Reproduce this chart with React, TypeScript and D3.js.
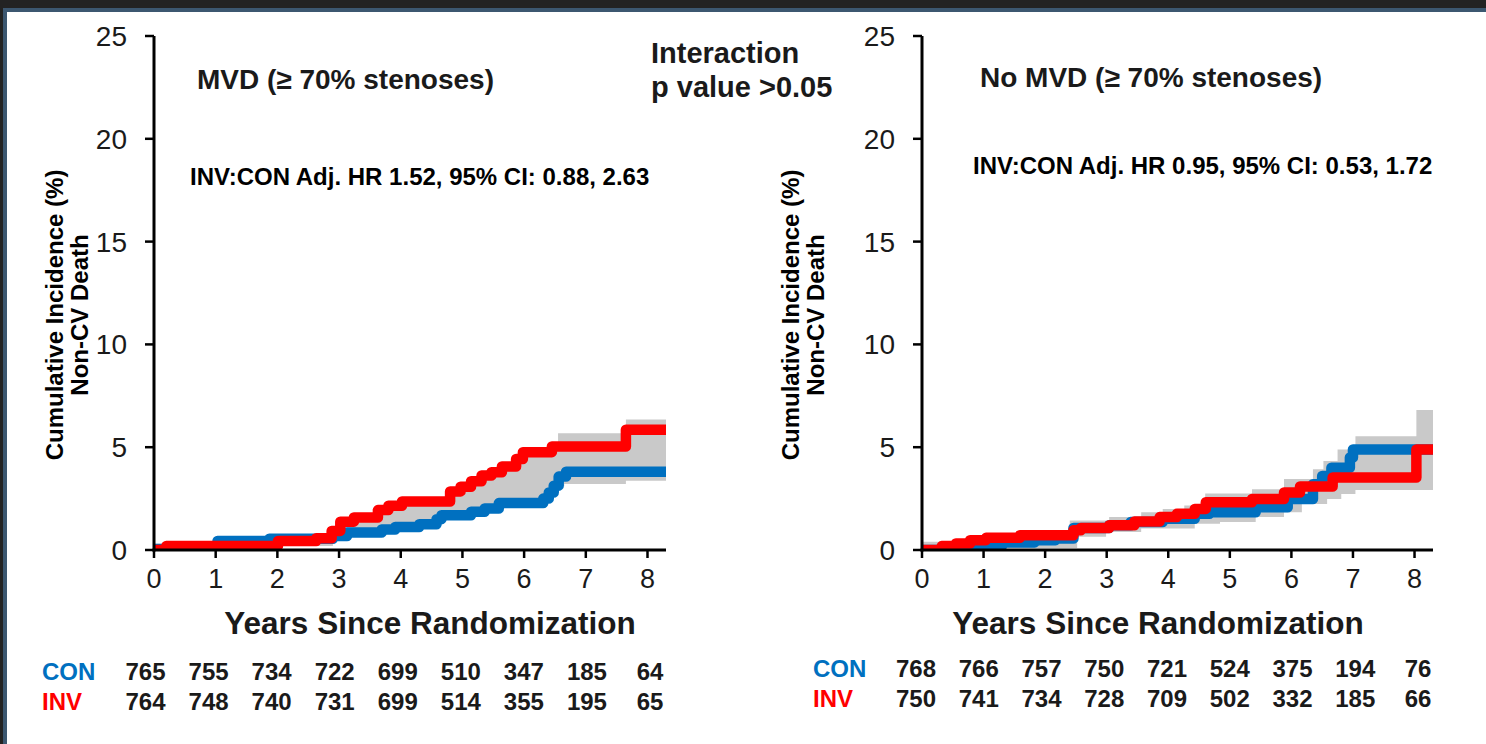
import React from "react";
import * as d3 from "d3";

// ---------- data ----------
const X_MAX = 8.3;
const xTicks = [0, 1, 2, 3, 4, 5, 6, 7, 8];
const yTicks = [0, 5, 10, 15, 20, 25];

// Left panel: MVD
const mvdConT = [0, 1.03, 1.87, 2.9, 3.13, 3.69, 3.91, 4.3, 4.58, 4.66, 5.14, 5.36, 5.59, 6.31, 6.4, 6.48, 6.56, 6.68];
const mvdConV = [0.05, 0.44, 0.55, 0.68, 0.85, 1.0, 1.12, 1.25, 1.5, 1.69, 1.86, 2.02, 2.28, 2.5, 2.8, 3.13, 3.57, 3.81];
const mvdInvT = [0, 0.2, 2.01, 2.63, 2.88, 3.02, 3.24, 3.63, 3.8, 4.02, 4.8, 4.97, 5.14, 5.31, 5.47, 5.64, 5.87, 5.98, 6.45, 7.65];
const mvdInvV = [0, 0.2, 0.44, 0.57, 0.93, 1.38, 1.58, 1.94, 2.15, 2.36, 2.85, 3.08, 3.34, 3.62, 3.78, 4.06, 4.43, 4.76, 5.03, 5.85];
const mvdHiT = [0, 2.9, 3.02, 3.24, 3.63, 3.8, 4.02, 4.8, 4.97, 5.14, 5.31, 5.47, 5.64, 5.87, 5.98, 6.45, 6.55, 7.65];
const mvdHiV = [0.3, 0.9, 1.35, 1.55, 1.9, 2.1, 2.3, 2.8, 3.0, 3.3, 3.6, 3.75, 4.0, 4.4, 4.7, 5.0, 5.68, 6.35];
const mvdLoT = [0, 2.9, 3.13, 3.69, 3.91, 4.3, 4.58, 4.66, 5.14, 5.36, 5.59, 6.31, 6.4, 6.48, 6.56, 6.65, 7.65];
const mvdLoV = [0.2, 0.5, 0.7, 0.9, 1.05, 1.2, 1.4, 1.6, 1.75, 1.9, 2.15, 2.4, 2.7, 3.0, 3.1, 3.21, 3.37];
const mvdRiskCon = [765, 755, 734, 722, 699, 510, 347, 185, 64];
const mvdRiskInv = [764, 748, 740, 731, 699, 514, 355, 195, 65];

// Right panel: No MVD
const noConT = [0, 0.84, 1.3, 1.83, 2.17, 2.46, 3.04, 3.39, 3.91, 4.43, 4.67, 5.42, 5.94, 6.35, 6.5, 6.65, 6.95, 7.0];
const noConV = [0, 0.2, 0.37, 0.48, 0.56, 1.07, 1.2, 1.36, 1.52, 1.76, 1.84, 2.08, 2.48, 3.2, 3.6, 4.0, 4.5, 4.89];
const noInvT = [0, 0.32, 0.55, 0.78, 1.04, 1.59, 2.46, 2.58, 3.04, 3.45, 3.86, 4.14, 4.43, 4.61, 5.36, 5.88, 6.14, 6.67, 8.03];
const noInvV = [0, 0.19, 0.32, 0.48, 0.59, 0.72, 0.96, 1.07, 1.2, 1.39, 1.6, 1.76, 2.0, 2.32, 2.48, 2.8, 3.09, 3.53, 4.89];
const noHiT = [0, 2.4, 3.04, 3.56, 3.91, 4.26, 4.6, 5.36, 5.88, 6.35, 6.52, 6.75, 7.04, 8.03];
const noHiV = [0.4, 1.44, 1.6, 1.84, 2.0, 2.16, 2.75, 2.96, 3.45, 3.93, 4.33, 4.89, 5.53, 6.81];
const noLoT = [0, 1.3, 2.52, 2.99, 3.56, 4.43, 4.84, 5.42, 5.88, 6.17, 6.58, 6.81, 7.04];
const noLoV = [0, 0.1, 0.64, 0.88, 1.04, 1.28, 1.36, 1.6, 1.84, 2.24, 2.48, 2.72, 2.92];
const noRiskCon = [768, 766, 757, 750, 721, 524, 375, 194, 76];
const noRiskInv = [750, 741, 734, 728, 709, 502, 332, 185, 66];

// ---------- styles ----------
const FONT = "'Liberation Sans', Arial, Helvetica, sans-serif";
const BLUE = "#0070C0";
const RED = "#FF0000";
const GREY = "#C9C9C9";
const INK = "#1a1a1a";

type PanelProps = {
  id: string;
  x0: number;
  x1: number;
  title: string;
  titleX: number;
  titleY: number;
  hr: string;
  hrX: number;
  hrY: number;
  xTitleX: number;
  yTitleX: number;
  conT: number[]; conV: number[];
  invT: number[]; invV: number[];
  hiT: number[]; hiV: number[];
  loT: number[]; loV: number[];
  riskCon: number[]; riskInv: number[];
  riskLabelX: number;
  riskFirst: number; riskLast: number;
  riskY1: number; riskY2: number;
};

function stepAt(ts: number[], vs: number[], t: number) {
  let v = vs[0];
  for (let i = 0; i < ts.length; i++) if (ts[i] <= t) v = vs[i];
  return v;
}

function Panel(p: PanelProps) {
  const x = d3.scaleLinear().domain([0, X_MAX]).range([p.x0, p.x1]);
  const y = d3.scaleLinear().domain([0, 25]).range([550, 36]);
  const pts = (ts: number[], vs: number[]) =>
    ts.map((t, i) => [t, vs[i]] as [number, number]).concat([[X_MAX, vs[vs.length - 1]]]);
  const line = d3
    .line<[number, number]>()
    .x((d) => x(d[0]))
    .y((d) => y(d[1]))
    .curve(d3.curveStepAfter);
  const allT = Array.from(new Set([...p.hiT, ...p.loT, X_MAX])).sort((a, b) => a - b);
  const area = d3
    .area<number>()
    .x((t) => x(t))
    .y0((t) => y(stepAt(p.loT, p.loV, t)))
    .y1((t) => y(stepAt(p.hiT, p.hiV, t)))
    .curve(d3.curveStepAfter);
  const risk = d3.scaleLinear().domain([0, 8]).range([p.riskFirst, p.riskLast]);
  const y0 = y(0);
  return (
    <g>
      <defs>
        <clipPath id={`clip-${p.id}`}>
          <rect x={p.x0} y={0} width={p.x1 - p.x0 + 4} height={y0} />
        </clipPath>
      </defs>
      <g clipPath={`url(#clip-${p.id})`}>
        <path d={area(allT) || ""} fill={GREY} />
        <path d={line(pts(p.conT, p.conV)) || ""} fill="none" stroke={BLUE} strokeWidth={10.5} strokeLinejoin="round" />
        <path d={line(pts(p.invT, p.invV)) || ""} fill="none" stroke={RED} strokeWidth={10.5} strokeLinejoin="round" />
      </g>
      {/* axes */}
      <line x1={p.x0} x2={p.x0} y1={y(25)} y2={y0 + 1.5} stroke="#000" strokeWidth={3} />
      <line x1={p.x0 - 1.5} x2={p.x1} y1={y0} y2={y0} stroke="#000" strokeWidth={3} />
      {yTicks.map((t) => (
        <g key={`y${t}`}>
          <line x1={p.x0 - 9} x2={p.x0} y1={y(t)} y2={y(t)} stroke="#000" strokeWidth={2.5} />
          <text x={p.x0 - 27} y={y(t) + 10} textAnchor="end" fontFamily={FONT} fontSize={28} fill={INK}>
            {t}
          </text>
        </g>
      ))}
      {xTicks.map((t) => (
        <g key={`x${t}`}>
          <line x1={x(t)} x2={x(t)} y1={y0} y2={y0 + 8} stroke="#000" strokeWidth={2.5} />
          <text x={x(t)} y={588} textAnchor="middle" fontFamily={FONT} fontSize={27} fill={INK}>
            {t}
          </text>
        </g>
      ))}
      {/* titles */}
      <text x={p.titleX} y={p.titleY} fontFamily={FONT} fontSize={28} fontWeight="bold" fill={INK}>
        {p.title}
      </text>
      <text x={p.hrX} y={p.hrY} fontFamily={FONT} fontSize={24} fontWeight="bold" fill="#000">
        {p.hr}
      </text>
      <text x={p.xTitleX} y={634} textAnchor="middle" fontFamily={FONT} fontSize={31.5} fontWeight="bold" fill={INK}>
        Years Since Randomization
      </text>
      <g transform={`translate(${p.yTitleX},315) rotate(-90)`}>
        <text x={0} y={0} textAnchor="middle" fontFamily={FONT} fontSize={24} fontWeight="bold" fill="#000">
          Cumulative Incidence (%)
        </text>
        <text x={0} y={25} textAnchor="middle" fontFamily={FONT} fontSize={24} fontWeight="bold" fill="#000">
          Non-CV Death
        </text>
      </g>
      {/* number at risk */}
      <text x={p.riskLabelX} y={p.riskY1} fontFamily={FONT} fontSize={24} fontWeight="bold" fill={BLUE}>
        CON
      </text>
      <text x={p.riskLabelX} y={p.riskY2} fontFamily={FONT} fontSize={24} fontWeight="bold" fill={RED}>
        INV
      </text>
      {p.riskCon.map((n, i) => (
        <text key={`c${i}`} x={risk(i)} y={p.riskY1} textAnchor="middle" fontFamily={FONT} fontSize={24} fontWeight="bold" fill={INK}>
          {n}
        </text>
      ))}
      {p.riskInv.map((n, i) => (
        <text key={`i${i}`} x={risk(i)} y={p.riskY2} textAnchor="middle" fontFamily={FONT} fontSize={24} fontWeight="bold" fill={INK}>
          {n}
        </text>
      ))}
    </g>
  );
}

export default function App() {
  return (
    <svg
      width={1486}
      height={744}
      viewBox="0 0 1486 744"
      style={{ position: "absolute", left: 0, top: 0, display: "block" }}
    >
      <rect x={0} y={0} width={1486} height={744} fill="#232323" />
      <rect x={3} y={8} width={1483} height={736} fill="#3c5770" />
      <rect x={7} y={12} width={1479} height={732} fill="#ffffff" />
      <Panel
        id="mvd"
        x0={154}
        x1={666}
        title="MVD (≥ 70% stenoses)"
        titleX={197}
        titleY={89}
        hr="INV:CON Adj. HR 1.52, 95% CI: 0.88, 2.63"
        hrX={190}
        hrY={185}
        xTitleX={430}
        yTitleX={63}
        conT={mvdConT} conV={mvdConV}
        invT={mvdInvT} invV={mvdInvV}
        hiT={mvdHiT} hiV={mvdHiV}
        loT={mvdLoT} loV={mvdLoV}
        riskCon={mvdRiskCon} riskInv={mvdRiskInv}
        riskLabelX={42}
        riskFirst={145.5}
        riskLast={650}
        riskY1={680}
        riskY2={710}
      />
      <Panel
        id="nomvd"
        x0={922}
        x1={1433}
        title="No MVD (≥ 70% stenoses)"
        titleX={980}
        titleY={87}
        hr="INV:CON Adj. HR 0.95, 95% CI: 0.53, 1.72"
        hrX={973}
        hrY={174}
        xTitleX={1158}
        yTitleX={799}
        conT={noConT} conV={noConV}
        invT={noInvT} invV={noInvV}
        hiT={noHiT} hiV={noHiV}
        loT={noLoT} loV={noLoV}
        riskCon={noRiskCon} riskInv={noRiskInv}
        riskLabelX={813}
        riskFirst={916}
        riskLast={1418}
        riskY1={677}
        riskY2={707}
      />
      <text x={651} y={63} fontFamily={FONT} fontSize={29} fontWeight="bold" fill={INK}>
        Interaction
      </text>
      <text x={651} y={97} fontFamily={FONT} fontSize={29} fontWeight="bold" fill={INK}>
        p value &gt;0.05
      </text>
    </svg>
  );
}
